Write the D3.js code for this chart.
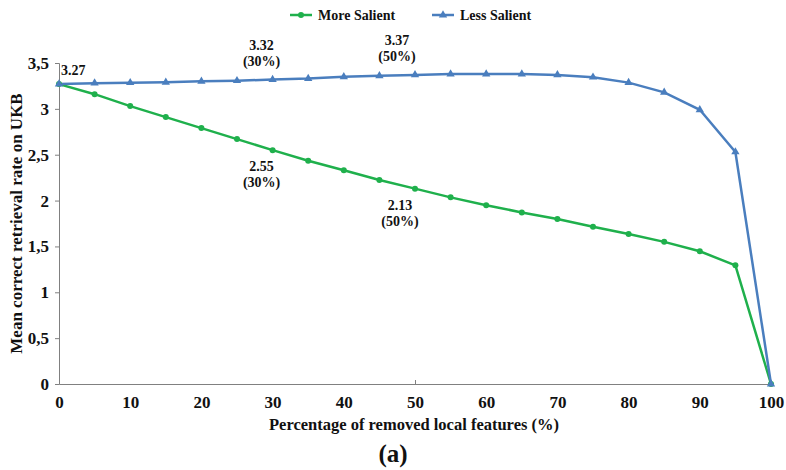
<!DOCTYPE html>
<html>
<head>
<meta charset="utf-8">
<script src="https://cdn.jsdelivr.net/npm/d3@7"></script>
<style>
  body { margin: 0; background: #fff; }
</style>
</head>
<body>
<div id="viz1"></div>
<script>
// data
const pct = [0, 5, 10, 15, 20, 25, 30, 35, 40, 45, 50, 55, 60, 65, 70, 75, 80, 85, 90, 95, 100];
const moreSalient = [3.27, 3.16, 3.03, 2.91, 2.79, 2.67, 2.55, 2.435, 2.33, 2.225, 2.13, 2.035, 1.95, 1.87, 1.80, 1.715, 1.636, 1.55, 1.447, 1.294, 0];
const lessSalient = [3.27, 3.28, 3.285, 3.29, 3.30, 3.307, 3.32, 3.33, 3.35, 3.36, 3.37, 3.38, 3.38, 3.38, 3.37, 3.345, 3.286, 3.18, 2.99, 2.53, 0];
const xTicks = [0, 10, 20, 30, 40, 50, 60, 70, 80, 90, 100];
const yTicks = [0, 0.5, 1, 1.5, 2, 2.5, 3, 3.5];
const seriesNames = ["More Salient", "Less Salient"];

// annotations: [x value, y value, label, sub label, dx]
const notes = [
  [0, 3.27, "3.27", null, 0],
  [30, 3.32, "3.32", "(30%)", -11],
  [50, 3.37, "3.37", "(50%)", -18],
  [30, 2.55, "2.55", "(30%)", -11],
  [50, 2.13, "2.13", "(50%)", -15]
];

const W = 786, H = 470;
const margin = {top: 63, right: 15, bottom: 86, left: 59};
const width = W - margin.left - margin.right,
    height = H - margin.top - margin.bottom;

const green = "#1fb04c", blue = "#4a7ebe";

const x = d3.scaleLinear().domain([0, 100]).range([0, width]);
const y = d3.scaleLinear().domain([0, 3.5]).range([height, 0]);

const svg = d3.select("#viz1").append("svg")
    .attr("width", W)
    .attr("height", H);

const g = svg.append("g")
    .attr("transform", "translate(" + margin.left + "," + margin.top + ")");

// y axis
const yAxis = g.append("g")
    .call(d3.axisLeft(y).tickValues(yTicks).tickSize(4).tickPadding(6)
        .tickFormat(d => String(d).replace(".", ",")));
yAxis.selectAll("text").style("font-size", "17px");

// x axis
const xAxis = g.append("g")
    .attr("transform", "translate(0," + height + ")")
    .call(d3.axisBottom(x).tickValues(xTicks).tickSize(0).tickPadding(12));
xAxis.selectAll("text").style("font-size", "17px");
xAxis.selectAll(".tick")
  .filter(d => d % 50 === 0)
  .append("line")
    .attr("y2", -4);

svg.selectAll(".domain, .tick line").attr("stroke", "#808080");

// lines
const line = d3.line()
    .x((d, i) => x(pct[i]))
    .y(d => y(d));

g.append("path")
    .datum(moreSalient)
    .attr("fill", "none")
    .attr("stroke", green)
    .attr("stroke-width", 2.5)
    .attr("d", line);

g.append("path")
    .datum(lessSalient)
    .attr("fill", "none")
    .attr("stroke", blue)
    .attr("stroke-width", 2.5)
    .attr("d", line);

g.selectAll(".dot")
  .data(moreSalient)
  .join("circle")
    .attr("class", "dot")
    .attr("cx", (d, i) => x(pct[i]))
    .attr("cy", d => y(d))
    .attr("r", 3)
    .attr("fill", green);

const tri = d3.symbol().type(d3.symbolTriangle).size(30);
g.selectAll(".tri")
  .data(lessSalient)
  .join("path")
    .attr("class", "tri")
    .attr("transform", (d, i) => "translate(" + x(pct[i]) + "," + y(d) + ")")
    .attr("d", tri)
    .attr("fill", blue);

// annotations
notes.forEach(function(n, k) {
  if (k === 0) {
    g.append("text")
      .attr("x", x(n[0]) + 2)
      .attr("y", y(n[1]) - 9)
      .style("font-size", "14px")
      .text(n[2]);
    return;
  }
  const above = k < 3;
  const cx = x(n[0]) + n[4];
  const cy = above ? y(n[1]) - 30 : y(n[1]) + 21;
  g.append("text")
    .attr("x", cx).attr("y", cy)
    .attr("text-anchor", "middle")
    .style("font-size", "14px")
    .text(n[2]);
  g.append("text")
    .attr("x", cx).attr("y", cy + 16)
    .attr("text-anchor", "middle")
    .style("font-size", "14px")
    .text(n[3]);
});

// axis titles
svg.append("text")
    .attr("x", 414)
    .attr("y", 430)
    .attr("text-anchor", "middle")
    .style("font-size", "16.5px")
    .text("Percentage of removed local features (%)");

svg.append("text")
    .attr("transform", "translate(22," + (margin.top + height / 2) + ") rotate(-90)")
    .attr("text-anchor", "middle")
    .style("font-size", "17px")
    .text("Mean correct retrieval rate on UKB");

svg.append("text")
    .attr("x", 393)
    .attr("y", 462)
    .attr("text-anchor", "middle")
    .style("font-size", "25px")
    .text("(a)");

// legend
const legend = svg.append("g").attr("transform", "translate(290,15)");
const items = legend.selectAll("g")
  .data(seriesNames)
  .join("g")
    .attr("transform", (d, i) => "translate(" + (i * 142) + ",0)");
items.append("line")
    .attr("x1", 0).attr("x2", 22)
    .attr("stroke", (d, i) => i === 0 ? green : blue)
    .attr("stroke-width", 2.5);
items.append("path")
    .attr("transform", "translate(11,0)")
    .attr("d", (d, i) => d3.symbol().type(i === 0 ? d3.symbolCircle : d3.symbolTriangle).size(i === 0 ? 28 : 30)())
    .attr("fill", (d, i) => i === 0 ? green : blue);
items.append("text")
    .attr("x", 28)
    .attr("y", 5)
    .style("font-size", "14px")
    .text(d => d);

// serif bold everywhere, set inline
svg.selectAll("text")
    .style("font-family", "Liberation Serif")
    .style("font-weight", "bold")
    .attr("fill", "#111");
</script>
</body>
</html>
